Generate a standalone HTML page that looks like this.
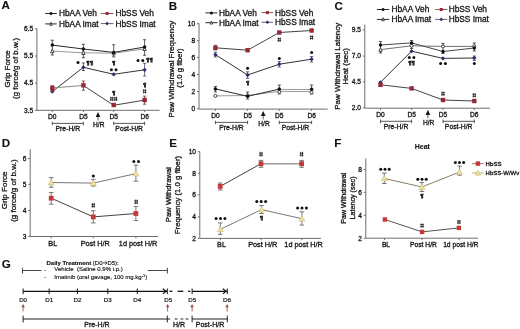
<!DOCTYPE html><html><head><meta charset="utf-8"><style>html,body{margin:0;padding:0;background:#fff;}svg{display:block;}body{will-change:transform;}text{font-family:"Liberation Sans",sans-serif;}</style></head><body>
<svg width="520" height="329" viewBox="0 0 520 329">
<rect width="520" height="329" fill="#fff"/>
<text x="1.5" y="9.38" font-size="11.6" text-anchor="start" font-weight="bold" fill="#111" stroke="#111" stroke-width="0.1">A</text>
<text x="168.8" y="9.58" font-size="11.6" text-anchor="start" font-weight="bold" fill="#111" stroke="#111" stroke-width="0.1">B</text>
<text x="334.6" y="9.98" font-size="11.6" text-anchor="start" font-weight="bold" fill="#111" stroke="#111" stroke-width="0.1">C</text>
<text x="1.7" y="146.68" font-size="11.6" text-anchor="start" font-weight="bold" fill="#111" stroke="#111" stroke-width="0.1">D</text>
<text x="169.2" y="147.18" font-size="11.6" text-anchor="start" font-weight="bold" fill="#111" stroke="#111" stroke-width="0.1">E</text>
<text x="334.2" y="147.18" font-size="11.6" text-anchor="start" font-weight="bold" fill="#111" stroke="#111" stroke-width="0.1">F</text>
<text x="1.7" y="268.48" font-size="11.6" text-anchor="start" font-weight="bold" fill="#111" stroke="#111" stroke-width="0.1">G</text>
<line x1="45.2" y1="13.5" x2="56.7" y2="13.5" stroke="#111" stroke-width="0.9"/>
<circle cx="50.95" cy="13.5" r="1.5" fill="#111"/>
<text x="59" y="16.49" font-size="8.3" text-anchor="start" font-weight="normal" fill="#151515" stroke="#151515" stroke-width="0.3">HbAA Veh</text>
<line x1="45.2" y1="23.9" x2="56.7" y2="23.9" stroke="#111" stroke-width="0.9"/>
<path d="M50.95,22.25 L52.27,25.22 L49.63,25.22 Z" fill="#fff" stroke="#333" stroke-width="0.9"/>
<text x="59" y="26.89" font-size="8.3" text-anchor="start" font-weight="normal" fill="#151515" stroke="#151515" stroke-width="0.3">HbAA Imat</text>
<line x1="100.8" y1="13.5" x2="113.5" y2="13.5" stroke="#7a4a4a" stroke-width="0.9"/>
<rect x="105.65" y="12" width="3" height="3" fill="#962838"/>
<text x="115.5" y="16.49" font-size="8.3" text-anchor="start" font-weight="normal" fill="#151515" stroke="#151515" stroke-width="0.3">HbSS Veh</text>
<line x1="100.8" y1="23.6" x2="113.5" y2="23.6" stroke="#555" stroke-width="0.9"/>
<path d="M107.15,21.8 L108.95,23.6 L107.15,25.4 L105.35,23.6 Z" fill="#2c2c6e"/>
<text x="115.5" y="26.59" font-size="8.3" text-anchor="start" font-weight="normal" fill="#151515" stroke="#151515" stroke-width="0.3">HbSS Imat</text>
<text x="0" y="0" font-size="7.9" text-anchor="middle" fill="#151515" stroke="#151515" stroke-width="0.3" transform="translate(9.8 68.9) rotate(-90)">Grip Force</text>
<text x="0" y="0" font-size="7.9" text-anchor="middle" fill="#151515" stroke="#151515" stroke-width="0.3" transform="translate(18 68.45) rotate(-90)">(g force/g of b.w.)</text>
<line x1="36.9" y1="28.5" x2="36.9" y2="110.3" stroke="#6e6e6e" stroke-width="1"/>
<line x1="34.9" y1="28.8" x2="36.9" y2="28.8" stroke="#6e6e6e" stroke-width="1"/>
<text x="33.1" y="31.18" font-size="6.6" text-anchor="end" font-weight="normal" fill="#151515" stroke="#151515" stroke-width="0.3">6.5</text>
<line x1="34.9" y1="56" x2="36.9" y2="56" stroke="#6e6e6e" stroke-width="1"/>
<text x="33.1" y="58.38" font-size="6.6" text-anchor="end" font-weight="normal" fill="#151515" stroke="#151515" stroke-width="0.3">5.5</text>
<line x1="34.9" y1="83.1" x2="36.9" y2="83.1" stroke="#6e6e6e" stroke-width="1"/>
<text x="33.1" y="85.48" font-size="6.6" text-anchor="end" font-weight="normal" fill="#151515" stroke="#151515" stroke-width="0.3">4.5</text>
<line x1="34.9" y1="110.4" x2="36.9" y2="110.4" stroke="#6e6e6e" stroke-width="1"/>
<text x="33.1" y="112.78" font-size="6.6" text-anchor="end" font-weight="normal" fill="#151515" stroke="#151515" stroke-width="0.3">3.5</text>
<line x1="36.9" y1="110.3" x2="159.6" y2="110.3" stroke="#6e6e6e" stroke-width="1"/>
<line x1="52.3" y1="110.3" x2="52.3" y2="112.1" stroke="#6e6e6e" stroke-width="1"/>
<text x="52.3" y="118.88" font-size="6.6" text-anchor="middle" font-weight="normal" fill="#151515" stroke="#151515" stroke-width="0.3">D0</text>
<line x1="83.4" y1="110.3" x2="83.4" y2="112.1" stroke="#6e6e6e" stroke-width="1"/>
<text x="83.4" y="118.88" font-size="6.6" text-anchor="middle" font-weight="normal" fill="#151515" stroke="#151515" stroke-width="0.3">D5</text>
<line x1="113.7" y1="110.3" x2="113.7" y2="112.1" stroke="#6e6e6e" stroke-width="1"/>
<text x="113.7" y="118.88" font-size="6.6" text-anchor="middle" font-weight="normal" fill="#151515" stroke="#151515" stroke-width="0.3">D5</text>
<line x1="144.6" y1="110.3" x2="144.6" y2="112.1" stroke="#6e6e6e" stroke-width="1"/>
<text x="144.6" y="118.88" font-size="6.6" text-anchor="middle" font-weight="normal" fill="#151515" stroke="#151515" stroke-width="0.3">D6</text>
<path d="M95.7,117.1 L98,111.9 L100.3,117.1 Z" fill="#111"/>
<line x1="98" y1="116.6" x2="98" y2="120.5" stroke="#555" stroke-width="0.9"/>
<text x="98.8" y="127.38" font-size="6.6" text-anchor="middle" font-weight="normal" fill="#151515" stroke="#151515" stroke-width="0.3">H/R</text>
<line x1="52.3" y1="123.4" x2="83.4" y2="123.4" stroke="#444" stroke-width="0.9"/>
<line x1="52.3" y1="121.7" x2="52.3" y2="125.2" stroke="#444" stroke-width="0.9"/>
<line x1="83.4" y1="121.7" x2="83.4" y2="125.2" stroke="#444" stroke-width="0.9"/>
<text x="67.85" y="131.15" font-size="6.8" text-anchor="middle" font-weight="normal" fill="#151515" stroke="#151515" stroke-width="0.3">Pre-H/R</text>
<line x1="113.7" y1="123.4" x2="144.6" y2="123.4" stroke="#444" stroke-width="0.9"/>
<line x1="113.7" y1="121.7" x2="113.7" y2="125.2" stroke="#444" stroke-width="0.9"/>
<line x1="144.6" y1="121.7" x2="144.6" y2="125.2" stroke="#444" stroke-width="0.9"/>
<text x="129.15" y="131.15" font-size="6.8" text-anchor="middle" font-weight="normal" fill="#151515" stroke="#151515" stroke-width="0.3">Post-H/R</text>
<polyline points="52.3,51.1 83.4,52.8 113.7,53.2 144.6,48.8" fill="none" stroke="#9a9a9a" stroke-width="1"/>
<polyline points="52.3,45.1 83.4,49 113.7,52.4 144.6,47" fill="none" stroke="#2a2a2a" stroke-width="1"/>
<polyline points="52.3,91.6 83.4,67.3 113.7,74.3 144.6,69.8" fill="none" stroke="#333" stroke-width="1"/>
<polyline points="52.3,87.9 83.4,85.5" fill="none" stroke="#888" stroke-width="1"/>
<polyline points="83.4,85.5 113.7,105.3 144.6,100.1" fill="none" stroke="#444" stroke-width="1"/>
<line x1="52.3" y1="40.2" x2="52.3" y2="55" stroke="#333" stroke-width="0.8"/>
<line x1="50.7" y1="40.2" x2="53.9" y2="40.2" stroke="#333" stroke-width="0.8"/>
<line x1="50.7" y1="55" x2="53.9" y2="55" stroke="#333" stroke-width="0.8"/>
<line x1="83.4" y1="44.3" x2="83.4" y2="57.7" stroke="#333" stroke-width="0.8"/>
<line x1="81.8" y1="44.3" x2="85" y2="44.3" stroke="#333" stroke-width="0.8"/>
<line x1="81.8" y1="57.7" x2="85" y2="57.7" stroke="#333" stroke-width="0.8"/>
<line x1="113.7" y1="44.8" x2="113.7" y2="56.9" stroke="#333" stroke-width="0.8"/>
<line x1="112.1" y1="44.8" x2="115.3" y2="44.8" stroke="#333" stroke-width="0.8"/>
<line x1="112.1" y1="56.9" x2="115.3" y2="56.9" stroke="#333" stroke-width="0.8"/>
<line x1="144.6" y1="39.7" x2="144.6" y2="55.3" stroke="#333" stroke-width="0.8"/>
<line x1="143" y1="39.7" x2="146.2" y2="39.7" stroke="#333" stroke-width="0.8"/>
<line x1="143" y1="55.3" x2="146.2" y2="55.3" stroke="#333" stroke-width="0.8"/>
<line x1="83.4" y1="63" x2="83.4" y2="70.5" stroke="#446" stroke-width="0.8"/>
<line x1="81.8" y1="63" x2="85" y2="63" stroke="#446" stroke-width="0.8"/>
<line x1="81.8" y1="70.5" x2="85" y2="70.5" stroke="#446" stroke-width="0.8"/>
<line x1="144.6" y1="63.3" x2="144.6" y2="76" stroke="#446" stroke-width="0.8"/>
<line x1="143" y1="63.3" x2="146.2" y2="63.3" stroke="#446" stroke-width="0.8"/>
<line x1="143" y1="76" x2="146.2" y2="76" stroke="#446" stroke-width="0.8"/>
<line x1="83.4" y1="81" x2="83.4" y2="90.2" stroke="#633" stroke-width="0.8"/>
<line x1="81.8" y1="81" x2="85" y2="81" stroke="#633" stroke-width="0.8"/>
<line x1="81.8" y1="90.2" x2="85" y2="90.2" stroke="#633" stroke-width="0.8"/>
<line x1="144.6" y1="96.1" x2="144.6" y2="104.2" stroke="#633" stroke-width="0.8"/>
<line x1="143" y1="96.1" x2="146.2" y2="96.1" stroke="#633" stroke-width="0.8"/>
<line x1="143" y1="104.2" x2="146.2" y2="104.2" stroke="#633" stroke-width="0.8"/>
<path d="M52.3,49.01 L53.97,52.77 L50.63,52.77 Z" fill="#fff" stroke="#333" stroke-width="0.9"/>
<path d="M83.4,50.71 L85.07,54.47 L81.73,54.47 Z" fill="#fff" stroke="#333" stroke-width="0.9"/>
<path d="M113.7,51.11 L115.37,54.87 L112.03,54.87 Z" fill="#fff" stroke="#333" stroke-width="0.9"/>
<path d="M144.6,46.71 L146.27,50.47 L142.93,50.47 Z" fill="#fff" stroke="#333" stroke-width="0.9"/>
<circle cx="52.3" cy="45.1" r="1.75" fill="#111"/>
<circle cx="83.4" cy="49" r="1.75" fill="#111"/>
<circle cx="113.7" cy="52.4" r="1.75" fill="#111"/>
<circle cx="144.6" cy="47" r="1.75" fill="#111"/>
<path d="M52.3,89.44 L54.46,91.6 L52.3,93.76 L50.14,91.6 Z" fill="#2c2c6e"/>
<path d="M83.4,65.14 L85.56,67.3 L83.4,69.46 L81.24,67.3 Z" fill="#2c2c6e"/>
<path d="M113.7,72.14 L115.86,74.3 L113.7,76.46 L111.54,74.3 Z" fill="#2c2c6e"/>
<path d="M144.6,67.64 L146.76,69.8 L144.6,71.96 L142.44,69.8 Z" fill="#2c2c6e"/>
<line x1="52.3" y1="85.6" x2="52.3" y2="91.5" stroke="#633" stroke-width="0.8"/>
<line x1="50.7" y1="85.6" x2="53.9" y2="85.6" stroke="#633" stroke-width="0.8"/>
<line x1="50.7" y1="91.5" x2="53.9" y2="91.5" stroke="#633" stroke-width="0.8"/>
<rect x="50.1" y="86.1" width="4.4" height="4.4" fill="#962838"/>
<rect x="81.2" y="83.1" width="4.4" height="4.4" fill="#962838"/>
<rect x="111.5" y="102.8" width="4.4" height="4.4" fill="#962838"/>
<rect x="142.4" y="97.8" width="4.4" height="4.4" fill="#962838"/>
<circle cx="78" cy="62.5" r="1.5" fill="#111"/>
<text x="89.7" y="64.66" font-size="6" text-anchor="middle" font-weight="bold" fill="#151515" stroke="#151515" stroke-width="0.4">¶¶</text>
<text x="113.7" y="65.16" font-size="6" text-anchor="middle" font-weight="bold" fill="#151515" stroke="#151515" stroke-width="0.4">¶</text>
<circle cx="111.4" cy="69.8" r="1.5" fill="#111"/>
<circle cx="116" cy="69.8" r="1.5" fill="#111"/>
<text x="113.7" y="94.66" font-size="6" text-anchor="middle" font-weight="bold" fill="#151515" stroke="#151515" stroke-width="0.4">¶</text>
<path d="M110.85,96.8 V101 M112.65,96.8 V101 M109.95,97.9 H113.55 M109.95,99.9 H113.55" stroke="#111" stroke-width="0.75" fill="none"/>
<path d="M114.75,96.8 V101 M116.55,96.8 V101 M113.85,97.9 H117.45 M113.85,99.9 H117.45" stroke="#111" stroke-width="0.75" fill="none"/>
<circle cx="138" cy="60.4" r="1.5" fill="#111"/>
<circle cx="142.8" cy="60.4" r="1.5" fill="#111"/>
<text x="149.4" y="62.16" font-size="6" text-anchor="middle" font-weight="bold" fill="#151515" stroke="#151515" stroke-width="0.4">¶¶</text>
<text x="144.6" y="86.56" font-size="6" text-anchor="middle" font-weight="bold" fill="#151515" stroke="#151515" stroke-width="0.4">¶</text>
<path d="M143.7,89.2 V93.4 M145.5,89.2 V93.4 M142.8,90.3 H146.4 M142.8,92.3 H146.4" stroke="#111" stroke-width="0.75" fill="none"/>
<line x1="205.4" y1="12.9" x2="217.3" y2="12.9" stroke="#111" stroke-width="0.9"/>
<circle cx="211.35" cy="12.9" r="1.5" fill="#111"/>
<text x="219" y="15.89" font-size="8.3" text-anchor="start" font-weight="normal" fill="#151515" stroke="#151515" stroke-width="0.3">HbAA Veh</text>
<line x1="205.4" y1="22.7" x2="217.3" y2="22.7" stroke="#111" stroke-width="0.9"/>
<path d="M211.35,21.05 L212.67,24.02 L210.03,24.02 Z" fill="#fff" stroke="#333" stroke-width="0.9"/>
<text x="219" y="25.69" font-size="8.3" text-anchor="start" font-weight="normal" fill="#151515" stroke="#151515" stroke-width="0.3">HbAA Imat</text>
<line x1="261.6" y1="12.6" x2="273.2" y2="12.6" stroke="#7a4a4a" stroke-width="0.9"/>
<rect x="265.9" y="11.1" width="3" height="3" fill="#962838"/>
<text x="275" y="15.59" font-size="8.3" text-anchor="start" font-weight="normal" fill="#151515" stroke="#151515" stroke-width="0.3">HbSS Veh</text>
<line x1="261.6" y1="22.3" x2="273.2" y2="22.3" stroke="#555" stroke-width="0.9"/>
<path d="M267.4,20.5 L269.2,22.3 L267.4,24.1 L265.6,22.3 Z" fill="#2c2c6e"/>
<text x="275" y="25.29" font-size="8.3" text-anchor="start" font-weight="normal" fill="#151515" stroke="#151515" stroke-width="0.3">HbSS Imat</text>
<text x="0" y="0" font-size="7.95" text-anchor="middle" fill="#151515" stroke="#151515" stroke-width="0.3" transform="translate(174 69.2) rotate(-90)">Paw Withdrawal Frequency</text>
<text x="0" y="0" font-size="7.7" text-anchor="middle" fill="#151515" stroke="#151515" stroke-width="0.3" transform="translate(182 68) rotate(-90)">(1.0 g fiber)</text>
<line x1="199" y1="23.4" x2="199" y2="109.1" stroke="#6e6e6e" stroke-width="1"/>
<line x1="197" y1="23.7" x2="199" y2="23.7" stroke="#6e6e6e" stroke-width="1"/>
<text x="195.2" y="26.08" font-size="6.6" text-anchor="end" font-weight="normal" fill="#151515" stroke="#151515" stroke-width="0.3">10</text>
<line x1="197" y1="40.6" x2="199" y2="40.6" stroke="#6e6e6e" stroke-width="1"/>
<text x="195.2" y="42.98" font-size="6.6" text-anchor="end" font-weight="normal" fill="#151515" stroke="#151515" stroke-width="0.3">8</text>
<line x1="197" y1="57.5" x2="199" y2="57.5" stroke="#6e6e6e" stroke-width="1"/>
<text x="195.2" y="59.88" font-size="6.6" text-anchor="end" font-weight="normal" fill="#151515" stroke="#151515" stroke-width="0.3">6</text>
<line x1="197" y1="74.5" x2="199" y2="74.5" stroke="#6e6e6e" stroke-width="1"/>
<text x="195.2" y="76.88" font-size="6.6" text-anchor="end" font-weight="normal" fill="#151515" stroke="#151515" stroke-width="0.3">4</text>
<line x1="197" y1="91.5" x2="199" y2="91.5" stroke="#6e6e6e" stroke-width="1"/>
<text x="195.2" y="93.88" font-size="6.6" text-anchor="end" font-weight="normal" fill="#151515" stroke="#151515" stroke-width="0.3">2</text>
<line x1="197" y1="108.7" x2="199" y2="108.7" stroke="#6e6e6e" stroke-width="1"/>
<text x="195.2" y="111.08" font-size="6.6" text-anchor="end" font-weight="normal" fill="#151515" stroke="#151515" stroke-width="0.3">0</text>
<line x1="199" y1="109.1" x2="327.7" y2="109.1" stroke="#6e6e6e" stroke-width="1"/>
<line x1="215.4" y1="109.1" x2="215.4" y2="110.9" stroke="#6e6e6e" stroke-width="1"/>
<text x="215.4" y="117.78" font-size="6.6" text-anchor="middle" font-weight="normal" fill="#151515" stroke="#151515" stroke-width="0.3">D0</text>
<line x1="247.6" y1="109.1" x2="247.6" y2="110.9" stroke="#6e6e6e" stroke-width="1"/>
<text x="247.6" y="117.78" font-size="6.6" text-anchor="middle" font-weight="normal" fill="#151515" stroke="#151515" stroke-width="0.3">D5</text>
<line x1="279.3" y1="109.1" x2="279.3" y2="110.9" stroke="#6e6e6e" stroke-width="1"/>
<text x="279.3" y="117.78" font-size="6.6" text-anchor="middle" font-weight="normal" fill="#151515" stroke="#151515" stroke-width="0.3">D5</text>
<line x1="311.6" y1="109.1" x2="311.6" y2="110.9" stroke="#6e6e6e" stroke-width="1"/>
<text x="311.6" y="117.78" font-size="6.6" text-anchor="middle" font-weight="normal" fill="#151515" stroke="#151515" stroke-width="0.3">D6</text>
<path d="M260.9,116.1 L263.2,110.9 L265.5,116.1 Z" fill="#111"/>
<line x1="263.2" y1="115.6" x2="263.2" y2="119.5" stroke="#555" stroke-width="0.9"/>
<text x="264" y="126.38" font-size="6.6" text-anchor="middle" font-weight="normal" fill="#151515" stroke="#151515" stroke-width="0.3">H/R</text>
<line x1="215.4" y1="122.4" x2="247.6" y2="122.4" stroke="#444" stroke-width="0.9"/>
<line x1="215.4" y1="120.7" x2="215.4" y2="124.2" stroke="#444" stroke-width="0.9"/>
<line x1="247.6" y1="120.7" x2="247.6" y2="124.2" stroke="#444" stroke-width="0.9"/>
<text x="231.5" y="130.15" font-size="6.8" text-anchor="middle" font-weight="normal" fill="#151515" stroke="#151515" stroke-width="0.3">Pre-H/R</text>
<line x1="279.3" y1="122.4" x2="311.6" y2="122.4" stroke="#444" stroke-width="0.9"/>
<line x1="279.3" y1="120.7" x2="279.3" y2="124.2" stroke="#444" stroke-width="0.9"/>
<line x1="311.6" y1="120.7" x2="311.6" y2="124.2" stroke="#444" stroke-width="0.9"/>
<text x="295.45" y="130.15" font-size="6.8" text-anchor="middle" font-weight="normal" fill="#151515" stroke="#151515" stroke-width="0.3">Post-H/R</text>
<polyline points="215.4,95.9 247.6,95.5 279.3,91.4 311.6,91.6" fill="none" stroke="#9a9a9a" stroke-width="1"/>
<polyline points="215.4,88.9 247.6,96.3 279.3,89.1" fill="none" stroke="#2a2a2a" stroke-width="1"/>
<polyline points="279.3,89.4 311.6,89.6" fill="none" stroke="#999" stroke-width="1"/>
<polyline points="215.4,54.7 247.6,75 279.3,64.2 311.6,59.2" fill="none" stroke="#333" stroke-width="1"/>
<polyline points="215.4,47.8 247.6,50.2 279.3,32.5 311.6,30.5" fill="none" stroke="#444" stroke-width="1"/>
<line x1="215.4" y1="86.5" x2="215.4" y2="92" stroke="#333" stroke-width="0.8"/>
<line x1="213.8" y1="86.5" x2="217" y2="86.5" stroke="#333" stroke-width="0.8"/>
<line x1="213.8" y1="92" x2="217" y2="92" stroke="#333" stroke-width="0.8"/>
<line x1="247.6" y1="92" x2="247.6" y2="99" stroke="#333" stroke-width="0.8"/>
<line x1="246" y1="92" x2="249.2" y2="92" stroke="#333" stroke-width="0.8"/>
<line x1="246" y1="99" x2="249.2" y2="99" stroke="#333" stroke-width="0.8"/>
<line x1="279.3" y1="85" x2="279.3" y2="94" stroke="#333" stroke-width="0.8"/>
<line x1="277.7" y1="85" x2="280.9" y2="85" stroke="#333" stroke-width="0.8"/>
<line x1="277.7" y1="94" x2="280.9" y2="94" stroke="#333" stroke-width="0.8"/>
<line x1="311.6" y1="85" x2="311.6" y2="94" stroke="#333" stroke-width="0.8"/>
<line x1="310" y1="85" x2="313.2" y2="85" stroke="#333" stroke-width="0.8"/>
<line x1="310" y1="94" x2="313.2" y2="94" stroke="#333" stroke-width="0.8"/>
<line x1="247.6" y1="71.8" x2="247.6" y2="78.3" stroke="#446" stroke-width="0.8"/>
<line x1="246" y1="71.8" x2="249.2" y2="71.8" stroke="#446" stroke-width="0.8"/>
<line x1="246" y1="78.3" x2="249.2" y2="78.3" stroke="#446" stroke-width="0.8"/>
<line x1="215.4" y1="52.3" x2="215.4" y2="57" stroke="#446" stroke-width="0.8"/>
<line x1="213.8" y1="52.3" x2="217" y2="52.3" stroke="#446" stroke-width="0.8"/>
<line x1="213.8" y1="57" x2="217" y2="57" stroke="#446" stroke-width="0.8"/>
<line x1="215.4" y1="45.3" x2="215.4" y2="50" stroke="#633" stroke-width="0.8"/>
<line x1="213.8" y1="45.3" x2="217" y2="45.3" stroke="#633" stroke-width="0.8"/>
<line x1="213.8" y1="50" x2="217" y2="50" stroke="#633" stroke-width="0.8"/>
<line x1="279.3" y1="61.5" x2="279.3" y2="67" stroke="#446" stroke-width="0.8"/>
<line x1="277.7" y1="61.5" x2="280.9" y2="61.5" stroke="#446" stroke-width="0.8"/>
<line x1="277.7" y1="67" x2="280.9" y2="67" stroke="#446" stroke-width="0.8"/>
<line x1="311.6" y1="56.5" x2="311.6" y2="62" stroke="#446" stroke-width="0.8"/>
<line x1="310" y1="56.5" x2="313.2" y2="56.5" stroke="#446" stroke-width="0.8"/>
<line x1="310" y1="62" x2="313.2" y2="62" stroke="#446" stroke-width="0.8"/>
<circle cx="215.4" cy="95.9" r="1.52" fill="#fff" stroke="#333" stroke-width="0.9"/>
<circle cx="247.6" cy="95.5" r="1.52" fill="#fff" stroke="#333" stroke-width="0.9"/>
<circle cx="279.3" cy="91.9" r="1.52" fill="#fff" stroke="#333" stroke-width="0.9"/>
<circle cx="311.6" cy="92.4" r="1.52" fill="#fff" stroke="#333" stroke-width="0.9"/>
<circle cx="215.4" cy="88.9" r="1.75" fill="#111"/>
<circle cx="247.6" cy="96.3" r="1.75" fill="#111"/>
<circle cx="279.3" cy="89.1" r="1.75" fill="#111"/>
<circle cx="311.6" cy="89.3" r="1.75" fill="#111"/>
<path d="M215.4,52.54 L217.56,54.7 L215.4,56.86 L213.24,54.7 Z" fill="#2c2c6e"/>
<path d="M247.6,72.84 L249.76,75 L247.6,77.16 L245.44,75 Z" fill="#2c2c6e"/>
<path d="M279.3,62.04 L281.46,64.2 L279.3,66.36 L277.14,64.2 Z" fill="#2c2c6e"/>
<path d="M311.6,57.04 L313.76,59.2 L311.6,61.36 L309.44,59.2 Z" fill="#2c2c6e"/>
<rect x="213.2" y="45.6" width="4.4" height="4.4" fill="#962838"/>
<rect x="245.4" y="48" width="4.4" height="4.4" fill="#962838"/>
<rect x="277.1" y="30.3" width="4.4" height="4.4" fill="#962838"/>
<rect x="309.4" y="28.3" width="4.4" height="4.4" fill="#962838"/>
<circle cx="247.6" cy="68.3" r="1.5" fill="#111"/>
<text x="247.6" y="85.36" font-size="6" text-anchor="middle" font-weight="bold" fill="#151515" stroke="#151515" stroke-width="0.4">¶</text>
<path d="M278.4,37.6 V41.8 M280.2,37.6 V41.8 M277.5,38.7 H281.1 M277.5,40.7 H281.1" stroke="#111" stroke-width="0.75" fill="none"/>
<circle cx="279.3" cy="58.4" r="1.5" fill="#111"/>
<path d="M310.7,35.4 V39.6 M312.5,35.4 V39.6 M309.8,36.5 H313.4 M309.8,38.5 H313.4" stroke="#111" stroke-width="0.75" fill="none"/>
<circle cx="311.6" cy="52.5" r="1.5" fill="#111"/>
<line x1="376.9" y1="9.5" x2="389.2" y2="9.5" stroke="#111" stroke-width="0.9"/>
<circle cx="383.05" cy="9.5" r="1.5" fill="#111"/>
<text x="391.5" y="12.49" font-size="8.3" text-anchor="start" font-weight="normal" fill="#151515" stroke="#151515" stroke-width="0.3">HbAA Veh</text>
<line x1="376.9" y1="19.4" x2="389.2" y2="19.4" stroke="#111" stroke-width="0.9"/>
<path d="M383.05,17.75 L384.37,20.72 L381.73,20.72 Z" fill="#fff" stroke="#333" stroke-width="0.9"/>
<text x="391.5" y="22.39" font-size="8.3" text-anchor="start" font-weight="normal" fill="#151515" stroke="#151515" stroke-width="0.3">HbAA Imat</text>
<line x1="435.2" y1="9.5" x2="447.3" y2="9.5" stroke="#7a4a4a" stroke-width="0.9"/>
<rect x="439.75" y="8" width="3" height="3" fill="#962838"/>
<text x="448.7" y="12.49" font-size="8.3" text-anchor="start" font-weight="normal" fill="#151515" stroke="#151515" stroke-width="0.3">HbSS Veh</text>
<line x1="435.2" y1="19.4" x2="447.3" y2="19.4" stroke="#555" stroke-width="0.9"/>
<path d="M441.25,17.6 L443.05,19.4 L441.25,21.2 L439.45,19.4 Z" fill="#2c2c6e"/>
<text x="448.7" y="22.39" font-size="8.3" text-anchor="start" font-weight="normal" fill="#151515" stroke="#151515" stroke-width="0.3">HbSS Imat</text>
<text x="0" y="0" font-size="7.95" text-anchor="middle" fill="#151515" stroke="#151515" stroke-width="0.3" transform="translate(339.5 66.3) rotate(-90)">Paw Withdrawal Latency</text>
<text x="0" y="0" font-size="7.9" text-anchor="middle" fill="#151515" stroke="#151515" stroke-width="0.3" transform="translate(347.5 66.4) rotate(-90)">Heat (sec)</text>
<line x1="364.8" y1="24.7" x2="364.8" y2="108.2" stroke="#6e6e6e" stroke-width="1"/>
<line x1="362.8" y1="30" x2="364.8" y2="30" stroke="#6e6e6e" stroke-width="1"/>
<text x="361" y="32.38" font-size="6.6" text-anchor="end" font-weight="normal" fill="#151515" stroke="#151515" stroke-width="0.3">9.5</text>
<line x1="362.8" y1="56" x2="364.8" y2="56" stroke="#6e6e6e" stroke-width="1"/>
<text x="361" y="58.38" font-size="6.6" text-anchor="end" font-weight="normal" fill="#151515" stroke="#151515" stroke-width="0.3">7.0</text>
<line x1="362.8" y1="81.9" x2="364.8" y2="81.9" stroke="#6e6e6e" stroke-width="1"/>
<text x="361" y="84.28" font-size="6.6" text-anchor="end" font-weight="normal" fill="#151515" stroke="#151515" stroke-width="0.3">4.5</text>
<line x1="362.8" y1="107.9" x2="364.8" y2="107.9" stroke="#6e6e6e" stroke-width="1"/>
<text x="361" y="110.28" font-size="6.6" text-anchor="end" font-weight="normal" fill="#151515" stroke="#151515" stroke-width="0.3">2.0</text>
<line x1="364.8" y1="108.2" x2="490" y2="108.2" stroke="#6e6e6e" stroke-width="1"/>
<line x1="380.5" y1="108.2" x2="380.5" y2="110" stroke="#6e6e6e" stroke-width="1"/>
<text x="380.5" y="117.18" font-size="6.6" text-anchor="middle" font-weight="normal" fill="#151515" stroke="#151515" stroke-width="0.3">D0</text>
<line x1="411.6" y1="108.2" x2="411.6" y2="110" stroke="#6e6e6e" stroke-width="1"/>
<text x="411.6" y="117.18" font-size="6.6" text-anchor="middle" font-weight="normal" fill="#151515" stroke="#151515" stroke-width="0.3">D5</text>
<line x1="443" y1="108.2" x2="443" y2="110" stroke="#6e6e6e" stroke-width="1"/>
<text x="443" y="117.18" font-size="6.6" text-anchor="middle" font-weight="normal" fill="#151515" stroke="#151515" stroke-width="0.3">D5</text>
<line x1="474.3" y1="108.2" x2="474.3" y2="110" stroke="#6e6e6e" stroke-width="1"/>
<text x="474.3" y="117.18" font-size="6.6" text-anchor="middle" font-weight="normal" fill="#151515" stroke="#151515" stroke-width="0.3">D6</text>
<path d="M425.6,115 L427.9,109.8 L430.2,115 Z" fill="#111"/>
<line x1="427.9" y1="114.5" x2="427.9" y2="118.4" stroke="#555" stroke-width="0.9"/>
<text x="428.7" y="125.28" font-size="6.6" text-anchor="middle" font-weight="normal" fill="#151515" stroke="#151515" stroke-width="0.3">H/R</text>
<line x1="380.5" y1="121.3" x2="411.6" y2="121.3" stroke="#444" stroke-width="0.9"/>
<line x1="380.5" y1="119.6" x2="380.5" y2="123.1" stroke="#444" stroke-width="0.9"/>
<line x1="411.6" y1="119.6" x2="411.6" y2="123.1" stroke="#444" stroke-width="0.9"/>
<text x="396.05" y="129.05" font-size="6.8" text-anchor="middle" font-weight="normal" fill="#151515" stroke="#151515" stroke-width="0.3">Pre-H/R</text>
<line x1="443" y1="121.3" x2="474.3" y2="121.3" stroke="#444" stroke-width="0.9"/>
<line x1="443" y1="119.6" x2="443" y2="123.1" stroke="#444" stroke-width="0.9"/>
<line x1="474.3" y1="119.6" x2="474.3" y2="123.1" stroke="#444" stroke-width="0.9"/>
<text x="458.65" y="129.05" font-size="6.8" text-anchor="middle" font-weight="normal" fill="#151515" stroke="#151515" stroke-width="0.3">Post-H/R</text>
<polyline points="380.5,49.6 411.6,45.8 443,46.4 474.3,46.4" fill="none" stroke="#707070" stroke-width="1"/>
<polyline points="380.5,45 411.6,42.9 443,51.5 474.3,48" fill="none" stroke="#4a4a4a" stroke-width="1"/>
<polyline points="380.5,82.3 411.6,51.2 443,58.4 474.3,58" fill="none" stroke="#333" stroke-width="1"/>
<polyline points="380.5,84.8 411.6,88.4 443,100 474.3,101" fill="none" stroke="#444" stroke-width="1"/>
<line x1="380.5" y1="41.5" x2="380.5" y2="53" stroke="#333" stroke-width="0.8"/>
<line x1="378.9" y1="41.5" x2="382.1" y2="41.5" stroke="#333" stroke-width="0.8"/>
<line x1="378.9" y1="53" x2="382.1" y2="53" stroke="#333" stroke-width="0.8"/>
<line x1="411.6" y1="40.5" x2="411.6" y2="48.5" stroke="#333" stroke-width="0.8"/>
<line x1="410" y1="40.5" x2="413.2" y2="40.5" stroke="#333" stroke-width="0.8"/>
<line x1="410" y1="48.5" x2="413.2" y2="48.5" stroke="#333" stroke-width="0.8"/>
<line x1="443" y1="43.4" x2="443" y2="53.5" stroke="#333" stroke-width="0.8"/>
<line x1="441.4" y1="43.4" x2="444.6" y2="43.4" stroke="#333" stroke-width="0.8"/>
<line x1="441.4" y1="53.5" x2="444.6" y2="53.5" stroke="#333" stroke-width="0.8"/>
<line x1="474.3" y1="43" x2="474.3" y2="51" stroke="#333" stroke-width="0.8"/>
<line x1="472.7" y1="43" x2="475.9" y2="43" stroke="#333" stroke-width="0.8"/>
<line x1="472.7" y1="51" x2="475.9" y2="51" stroke="#333" stroke-width="0.8"/>
<line x1="474.3" y1="56" x2="474.3" y2="60.5" stroke="#446" stroke-width="0.8"/>
<line x1="472.7" y1="56" x2="475.9" y2="56" stroke="#446" stroke-width="0.8"/>
<line x1="472.7" y1="60.5" x2="475.9" y2="60.5" stroke="#446" stroke-width="0.8"/>
<path d="M380.5,47.51 L382.17,51.27 L378.83,51.27 Z" fill="#fff" stroke="#333" stroke-width="0.9"/>
<circle cx="411.6" cy="45.8" r="1.52" fill="#fff" stroke="#333" stroke-width="0.9"/>
<circle cx="443" cy="46.4" r="1.52" fill="#fff" stroke="#333" stroke-width="0.9"/>
<circle cx="474.3" cy="46.4" r="1.52" fill="#fff" stroke="#333" stroke-width="0.9"/>
<circle cx="380.5" cy="45" r="1.75" fill="#111"/>
<circle cx="411.6" cy="42.9" r="1.75" fill="#111"/>
<circle cx="443" cy="51.4" r="1.75" fill="#111"/>
<circle cx="474.3" cy="48" r="1.75" fill="#111"/>
<path d="M380.5,80.14 L382.66,82.3 L380.5,84.46 L378.34,82.3 Z" fill="#2c2c6e"/>
<path d="M411.6,49.04 L413.76,51.2 L411.6,53.36 L409.44,51.2 Z" fill="#2c2c6e"/>
<path d="M443,56.24 L445.16,58.4 L443,60.56 L440.84,58.4 Z" fill="#2c2c6e"/>
<path d="M474.3,55.84 L476.46,58 L474.3,60.16 L472.14,58 Z" fill="#2c2c6e"/>
<rect x="378.3" y="82.6" width="4.4" height="4.4" fill="#962838"/>
<rect x="409.4" y="86.2" width="4.4" height="4.4" fill="#962838"/>
<rect x="440.8" y="97.8" width="4.4" height="4.4" fill="#962838"/>
<rect x="472.1" y="98.8" width="4.4" height="4.4" fill="#962838"/>
<circle cx="409.3" cy="57.6" r="1.5" fill="#111"/>
<circle cx="413.9" cy="57.6" r="1.5" fill="#111"/>
<text x="411.6" y="65.26" font-size="6" text-anchor="middle" font-weight="bold" fill="#151515" stroke="#151515" stroke-width="0.4">¶¶</text>
<circle cx="440.6" cy="63.4" r="1.5" fill="#111"/>
<circle cx="445.4" cy="63.4" r="1.5" fill="#111"/>
<circle cx="474.3" cy="63.4" r="1.5" fill="#111"/>
<path d="M442.1,91.6 V95.8 M443.9,91.6 V95.8 M441.2,92.7 H444.8 M441.2,94.7 H444.8" stroke="#111" stroke-width="0.75" fill="none"/>
<path d="M473.4,93.2 V97.4 M475.2,93.2 V97.4 M472.5,94.3 H476.1 M472.5,96.3 H476.1" stroke="#111" stroke-width="0.75" fill="none"/>
<text x="0" y="0" font-size="8" text-anchor="middle" fill="#151515" stroke="#151515" stroke-width="0.3" transform="translate(7.2 190.4) rotate(-90)">Grip Force</text>
<text x="0" y="0" font-size="8.1" text-anchor="middle" fill="#151515" stroke="#151515" stroke-width="0.3" transform="translate(15.8 190.6) rotate(-90)">(g force/g of b.w.)</text>
<line x1="30.2" y1="149.2" x2="30.2" y2="236.5" stroke="#6e6e6e" stroke-width="1"/>
<line x1="28.2" y1="158.5" x2="30.2" y2="158.5" stroke="#6e6e6e" stroke-width="1"/>
<text x="26.4" y="160.88" font-size="6.6" text-anchor="end" font-weight="normal" fill="#151515" stroke="#151515" stroke-width="0.3">6</text>
<line x1="28.2" y1="184.4" x2="30.2" y2="184.4" stroke="#6e6e6e" stroke-width="1"/>
<text x="26.4" y="186.78" font-size="6.6" text-anchor="end" font-weight="normal" fill="#151515" stroke="#151515" stroke-width="0.3">5</text>
<line x1="28.2" y1="210.5" x2="30.2" y2="210.5" stroke="#6e6e6e" stroke-width="1"/>
<text x="26.4" y="212.88" font-size="6.6" text-anchor="end" font-weight="normal" fill="#151515" stroke="#151515" stroke-width="0.3">4</text>
<line x1="28.2" y1="236.4" x2="30.2" y2="236.4" stroke="#6e6e6e" stroke-width="1"/>
<text x="26.4" y="238.78" font-size="6.6" text-anchor="end" font-weight="normal" fill="#151515" stroke="#151515" stroke-width="0.3">3</text>
<line x1="30.2" y1="236.5" x2="158" y2="236.5" stroke="#6e6e6e" stroke-width="1"/>
<line x1="51.2" y1="236.5" x2="51.2" y2="238.3" stroke="#6e6e6e" stroke-width="1"/>
<text x="52.8" y="246.33" font-size="7.3" text-anchor="middle" font-weight="normal" fill="#151515" stroke="#151515" stroke-width="0.3">BL</text>
<line x1="93.3" y1="236.5" x2="93.3" y2="238.3" stroke="#6e6e6e" stroke-width="1"/>
<text x="95.3" y="246.33" font-size="7.3" text-anchor="middle" font-weight="normal" fill="#151515" stroke="#151515" stroke-width="0.3">Post H/R</text>
<line x1="135.9" y1="236.5" x2="135.9" y2="238.3" stroke="#6e6e6e" stroke-width="1"/>
<text x="138.1" y="246.33" font-size="7.3" text-anchor="middle" font-weight="normal" fill="#151515" stroke="#151515" stroke-width="0.3">1d post H/R</text>
<polyline points="51.2,182.5 93.3,183.1 135.9,173.6" fill="none" stroke="#777" stroke-width="1"/>
<polyline points="51.2,198.2 93.3,216.9 135.9,213.5" fill="none" stroke="#444" stroke-width="1"/>
<line x1="51.2" y1="177.6" x2="51.2" y2="187.3" stroke="#505050" stroke-width="0.75"/>
<line x1="48.9" y1="177.6" x2="53.5" y2="177.6" stroke="#505050" stroke-width="0.75"/>
<line x1="48.9" y1="187.3" x2="53.5" y2="187.3" stroke="#505050" stroke-width="0.75"/>
<line x1="93.3" y1="179.4" x2="93.3" y2="186.1" stroke="#505050" stroke-width="0.75"/>
<line x1="91" y1="179.4" x2="95.6" y2="179.4" stroke="#505050" stroke-width="0.75"/>
<line x1="91" y1="186.1" x2="95.6" y2="186.1" stroke="#505050" stroke-width="0.75"/>
<line x1="135.9" y1="165.2" x2="135.9" y2="181.2" stroke="#505050" stroke-width="0.75"/>
<line x1="133.6" y1="165.2" x2="138.2" y2="165.2" stroke="#505050" stroke-width="0.75"/>
<line x1="133.6" y1="181.2" x2="138.2" y2="181.2" stroke="#505050" stroke-width="0.75"/>
<line x1="51.2" y1="192.5" x2="51.2" y2="204.2" stroke="#505050" stroke-width="0.75"/>
<line x1="48.9" y1="192.5" x2="53.5" y2="192.5" stroke="#505050" stroke-width="0.75"/>
<line x1="48.9" y1="204.2" x2="53.5" y2="204.2" stroke="#505050" stroke-width="0.75"/>
<line x1="93.3" y1="210.8" x2="93.3" y2="222.9" stroke="#505050" stroke-width="0.75"/>
<line x1="91" y1="210.8" x2="95.6" y2="210.8" stroke="#505050" stroke-width="0.75"/>
<line x1="91" y1="222.9" x2="95.6" y2="222.9" stroke="#505050" stroke-width="0.75"/>
<line x1="135.9" y1="206.5" x2="135.9" y2="220.5" stroke="#505050" stroke-width="0.75"/>
<line x1="133.6" y1="206.5" x2="138.2" y2="206.5" stroke="#505050" stroke-width="0.75"/>
<line x1="133.6" y1="220.5" x2="138.2" y2="220.5" stroke="#505050" stroke-width="0.75"/>
<path d="M51.2,179.5 L54.2,184.9 L48.2,184.9 Z" fill="#eee2a0" stroke="#c4b070" stroke-width="0.5"/>
<path d="M93.3,180.1 L96.3,185.5 L90.3,185.5 Z" fill="#eee2a0" stroke="#c4b070" stroke-width="0.5"/>
<path d="M135.9,170.6 L138.9,176 L132.9,176 Z" fill="#eee2a0" stroke="#c4b070" stroke-width="0.5"/>
<rect x="48.8" y="195.8" width="4.8" height="4.8" fill="#c23c38"/>
<rect x="90.9" y="214.5" width="4.8" height="4.8" fill="#c23c38"/>
<rect x="133.5" y="211.1" width="4.8" height="4.8" fill="#c23c38"/>
<circle cx="93.3" cy="176" r="1.5" fill="#111"/>
<circle cx="133.9" cy="161.4" r="1.5" fill="#111"/>
<circle cx="138.5" cy="161.4" r="1.5" fill="#111"/>
<path d="M92.4,203.05 V207.75 M94.2,203.05 V207.75 M91.5,204.4 H95.1 M91.5,206.4 H95.1" stroke="#111" stroke-width="0.75" fill="none"/>
<path d="M135.3,199.55 V204.25 M137.1,199.55 V204.25 M134.4,200.9 H138 M134.4,202.9 H138" stroke="#111" stroke-width="0.75" fill="none"/>
<text x="0" y="0" font-size="7.73" text-anchor="middle" fill="#151515" stroke="#151515" stroke-width="0.3" transform="translate(170.8 194.6) rotate(-90)">Paw Withdrawal</text>
<text x="0" y="0" font-size="7.74" text-anchor="middle" fill="#151515" stroke="#151515" stroke-width="0.3" transform="translate(179.8 195.05) rotate(-90)">Frequency (1.0 g fiber)</text>
<line x1="199.8" y1="151.4" x2="199.8" y2="238.4" stroke="#6e6e6e" stroke-width="1"/>
<line x1="197.8" y1="151.7" x2="199.8" y2="151.7" stroke="#6e6e6e" stroke-width="1"/>
<text x="196" y="154.08" font-size="6.6" text-anchor="end" font-weight="normal" fill="#151515" stroke="#151515" stroke-width="0.3">10</text>
<line x1="197.8" y1="173.4" x2="199.8" y2="173.4" stroke="#6e6e6e" stroke-width="1"/>
<text x="196" y="175.78" font-size="6.6" text-anchor="end" font-weight="normal" fill="#151515" stroke="#151515" stroke-width="0.3">8</text>
<line x1="197.8" y1="194.8" x2="199.8" y2="194.8" stroke="#6e6e6e" stroke-width="1"/>
<text x="196" y="197.18" font-size="6.6" text-anchor="end" font-weight="normal" fill="#151515" stroke="#151515" stroke-width="0.3">6</text>
<line x1="197.8" y1="216.8" x2="199.8" y2="216.8" stroke="#6e6e6e" stroke-width="1"/>
<text x="196" y="219.18" font-size="6.6" text-anchor="end" font-weight="normal" fill="#151515" stroke="#151515" stroke-width="0.3">4</text>
<line x1="197.8" y1="238.3" x2="199.8" y2="238.3" stroke="#6e6e6e" stroke-width="1"/>
<text x="196" y="240.68" font-size="6.6" text-anchor="end" font-weight="normal" fill="#151515" stroke="#151515" stroke-width="0.3">2</text>
<line x1="199.8" y1="238.4" x2="321" y2="238.4" stroke="#6e6e6e" stroke-width="1"/>
<line x1="220.3" y1="238.4" x2="220.3" y2="240.2" stroke="#6e6e6e" stroke-width="1"/>
<text x="221.5" y="247.43" font-size="7.3" text-anchor="middle" font-weight="normal" fill="#151515" stroke="#151515" stroke-width="0.3">BL</text>
<line x1="261.2" y1="238.4" x2="261.2" y2="240.2" stroke="#6e6e6e" stroke-width="1"/>
<text x="262.75" y="247.43" font-size="7.3" text-anchor="middle" font-weight="normal" fill="#151515" stroke="#151515" stroke-width="0.3">Post H/R</text>
<line x1="301.8" y1="238.4" x2="301.8" y2="240.2" stroke="#6e6e6e" stroke-width="1"/>
<text x="303.6" y="247.43" font-size="7.3" text-anchor="middle" font-weight="normal" fill="#151515" stroke="#151515" stroke-width="0.3">1d post H/R</text>
<polyline points="220.2,186.4 261,163.7" fill="none" stroke="#444" stroke-width="1"/>
<polyline points="261,163.7 301.6,163.7" fill="none" stroke="#a49c9c" stroke-width="1.5"/>
<polyline points="220.3,229.3 261.5,209.6 301.9,218.7" fill="none" stroke="#777" stroke-width="1"/>
<line x1="220.2" y1="183" x2="220.2" y2="190" stroke="#505050" stroke-width="0.75"/>
<line x1="217.9" y1="183" x2="222.5" y2="183" stroke="#505050" stroke-width="0.75"/>
<line x1="217.9" y1="190" x2="222.5" y2="190" stroke="#505050" stroke-width="0.75"/>
<line x1="261" y1="160.4" x2="261" y2="167.3" stroke="#505050" stroke-width="0.75"/>
<line x1="258.7" y1="160.4" x2="263.3" y2="160.4" stroke="#505050" stroke-width="0.75"/>
<line x1="258.7" y1="167.3" x2="263.3" y2="167.3" stroke="#505050" stroke-width="0.75"/>
<line x1="301.6" y1="160.4" x2="301.6" y2="167.3" stroke="#505050" stroke-width="0.75"/>
<line x1="299.3" y1="160.4" x2="303.9" y2="160.4" stroke="#505050" stroke-width="0.75"/>
<line x1="299.3" y1="167.3" x2="303.9" y2="167.3" stroke="#505050" stroke-width="0.75"/>
<line x1="220.3" y1="222.9" x2="220.3" y2="234.4" stroke="#505050" stroke-width="0.75"/>
<line x1="218" y1="222.9" x2="222.6" y2="222.9" stroke="#505050" stroke-width="0.75"/>
<line x1="218" y1="234.4" x2="222.6" y2="234.4" stroke="#505050" stroke-width="0.75"/>
<line x1="261.5" y1="205.6" x2="261.5" y2="213.5" stroke="#505050" stroke-width="0.75"/>
<line x1="259.2" y1="205.6" x2="263.8" y2="205.6" stroke="#505050" stroke-width="0.75"/>
<line x1="259.2" y1="213.5" x2="263.8" y2="213.5" stroke="#505050" stroke-width="0.75"/>
<line x1="301.9" y1="211.8" x2="301.9" y2="225.1" stroke="#505050" stroke-width="0.75"/>
<line x1="299.6" y1="211.8" x2="304.2" y2="211.8" stroke="#505050" stroke-width="0.75"/>
<line x1="299.6" y1="225.1" x2="304.2" y2="225.1" stroke="#505050" stroke-width="0.75"/>
<rect x="217.8" y="184" width="4.8" height="4.8" fill="#c23c38"/>
<rect x="258.6" y="161.3" width="4.8" height="4.8" fill="#c23c38"/>
<rect x="299.2" y="161.3" width="4.8" height="4.8" fill="#c23c38"/>
<path d="M220.3,226.3 L223.3,231.7 L217.3,231.7 Z" fill="#eee2a0" stroke="#c4b070" stroke-width="0.5"/>
<path d="M261.5,206.6 L264.5,212 L258.5,212 Z" fill="#eee2a0" stroke="#c4b070" stroke-width="0.5"/>
<path d="M301.9,215.7 L304.9,221.1 L298.9,221.1 Z" fill="#eee2a0" stroke="#c4b070" stroke-width="0.5"/>
<circle cx="216.1" cy="218.6" r="1.5" fill="#111"/>
<circle cx="220.5" cy="218.6" r="1.5" fill="#111"/>
<circle cx="224.9" cy="218.6" r="1.5" fill="#111"/>
<circle cx="256.8" cy="201.6" r="1.5" fill="#111"/>
<circle cx="261.2" cy="201.6" r="1.5" fill="#111"/>
<circle cx="265.6" cy="201.6" r="1.5" fill="#111"/>
<circle cx="297.6" cy="208.1" r="1.5" fill="#111"/>
<circle cx="302" cy="208.1" r="1.5" fill="#111"/>
<circle cx="306.4" cy="208.1" r="1.5" fill="#111"/>
<text x="261.5" y="219.96" font-size="6" text-anchor="middle" font-weight="bold" fill="#151515" stroke="#151515" stroke-width="0.4">¶</text>
<path d="M260.1,151.85 V156.55 M261.9,151.85 V156.55 M259.2,153.2 H262.8 M259.2,155.2 H262.8" stroke="#111" stroke-width="0.75" fill="none"/>
<path d="M300.7,151.85 V156.55 M302.5,151.85 V156.55 M299.8,153.2 H303.4 M299.8,155.2 H303.4" stroke="#111" stroke-width="0.75" fill="none"/>
<text x="422.3" y="148.82" font-size="7" text-anchor="middle" font-weight="bold" fill="#111" stroke="#111" stroke-width="0.1">Heat</text>
<text x="0" y="0" font-size="7.1" text-anchor="middle" fill="#151515" stroke="#151515" stroke-width="0.3" transform="translate(346 198.25) rotate(-90)">Paw Withdrawal</text>
<text x="0" y="0" font-size="7.2" text-anchor="middle" fill="#151515" stroke="#151515" stroke-width="0.3" transform="translate(354.5 198) rotate(-90)">Latency (sec)</text>
<line x1="365.8" y1="158.4" x2="365.8" y2="238.2" stroke="#6e6e6e" stroke-width="1"/>
<line x1="363.8" y1="169.4" x2="365.8" y2="169.4" stroke="#6e6e6e" stroke-width="1"/>
<text x="362" y="171.78" font-size="6.6" text-anchor="end" font-weight="normal" fill="#151515" stroke="#151515" stroke-width="0.3">8</text>
<line x1="363.8" y1="192.4" x2="365.8" y2="192.4" stroke="#6e6e6e" stroke-width="1"/>
<text x="362" y="194.78" font-size="6.6" text-anchor="end" font-weight="normal" fill="#151515" stroke="#151515" stroke-width="0.3">6</text>
<line x1="363.8" y1="215.3" x2="365.8" y2="215.3" stroke="#6e6e6e" stroke-width="1"/>
<text x="362" y="217.68" font-size="6.6" text-anchor="end" font-weight="normal" fill="#151515" stroke="#151515" stroke-width="0.3">4</text>
<line x1="363.8" y1="238.2" x2="365.8" y2="238.2" stroke="#6e6e6e" stroke-width="1"/>
<text x="362" y="240.58" font-size="6.6" text-anchor="end" font-weight="normal" fill="#151515" stroke="#151515" stroke-width="0.3">2</text>
<line x1="365.8" y1="238.2" x2="478" y2="238.2" stroke="#6e6e6e" stroke-width="1"/>
<line x1="384.6" y1="238.2" x2="384.6" y2="240" stroke="#6e6e6e" stroke-width="1"/>
<text x="386" y="246.71" font-size="6.7" text-anchor="middle" font-weight="normal" fill="#151515" stroke="#151515" stroke-width="0.3">BL</text>
<line x1="422" y1="238.2" x2="422" y2="240" stroke="#6e6e6e" stroke-width="1"/>
<text x="423.45" y="246.71" font-size="6.7" text-anchor="middle" font-weight="normal" fill="#151515" stroke="#151515" stroke-width="0.3">Post H/R</text>
<line x1="459.2" y1="238.2" x2="459.2" y2="240" stroke="#6e6e6e" stroke-width="1"/>
<text x="460.8" y="246.71" font-size="6.7" text-anchor="middle" font-weight="normal" fill="#151515" stroke="#151515" stroke-width="0.3">1d post H/R</text>
<polyline points="384.3,178.4 421.9,187 459.6,172" fill="none" stroke="#8a8060" stroke-width="1"/>
<polyline points="384.9,219.5 422.1,231.9 458.9,227.9" fill="none" stroke="#555" stroke-width="1"/>
<line x1="384.3" y1="173.1" x2="384.3" y2="183.5" stroke="#505050" stroke-width="0.75"/>
<line x1="382" y1="173.1" x2="386.6" y2="173.1" stroke="#505050" stroke-width="0.75"/>
<line x1="382" y1="183.5" x2="386.6" y2="183.5" stroke="#505050" stroke-width="0.75"/>
<line x1="421.9" y1="182.5" x2="421.9" y2="191.5" stroke="#505050" stroke-width="0.75"/>
<line x1="419.6" y1="182.5" x2="424.2" y2="182.5" stroke="#505050" stroke-width="0.75"/>
<line x1="419.6" y1="191.5" x2="424.2" y2="191.5" stroke="#505050" stroke-width="0.75"/>
<line x1="459.6" y1="166.1" x2="459.6" y2="175.2" stroke="#505050" stroke-width="0.75"/>
<line x1="457.3" y1="166.1" x2="461.9" y2="166.1" stroke="#505050" stroke-width="0.75"/>
<line x1="457.3" y1="175.2" x2="461.9" y2="175.2" stroke="#505050" stroke-width="0.75"/>
<path d="M384.3,175.4 L387.3,180.8 L381.3,180.8 Z" fill="#eee2a0" stroke="#c4b070" stroke-width="0.5"/>
<path d="M421.9,184 L424.9,189.4 L418.9,189.4 Z" fill="#eee2a0" stroke="#c4b070" stroke-width="0.5"/>
<path d="M459.6,169 L462.6,174.4 L456.6,174.4 Z" fill="#eee2a0" stroke="#c4b070" stroke-width="0.5"/>
<rect x="382.7" y="217.3" width="4.4" height="4.4" fill="#c23c38"/>
<rect x="419.9" y="229.7" width="4.4" height="4.4" fill="#c23c38"/>
<rect x="456.7" y="225.7" width="4.4" height="4.4" fill="#c23c38"/>
<circle cx="380.8" cy="169.2" r="1.5" fill="#111"/>
<circle cx="385" cy="169.2" r="1.5" fill="#111"/>
<circle cx="389.2" cy="169.2" r="1.5" fill="#111"/>
<circle cx="417.8" cy="179.3" r="1.5" fill="#111"/>
<circle cx="422" cy="179.3" r="1.5" fill="#111"/>
<circle cx="426.2" cy="179.3" r="1.5" fill="#111"/>
<circle cx="455.4" cy="162.4" r="1.5" fill="#111"/>
<circle cx="459.5" cy="162.4" r="1.5" fill="#111"/>
<circle cx="463.6" cy="162.4" r="1.5" fill="#111"/>
<text x="422" y="198.36" font-size="6" text-anchor="middle" font-weight="bold" fill="#151515" stroke="#151515" stroke-width="0.4">¶</text>
<path d="M421.2,223.5 V227.7 M423,223.5 V227.7 M420.3,224.6 H423.9 M420.3,226.6 H423.9" stroke="#111" stroke-width="0.75" fill="none"/>
<path d="M458,219.9 V224.1 M459.8,219.9 V224.1 M457.1,221 H460.7 M457.1,223 H460.7" stroke="#111" stroke-width="0.75" fill="none"/>
<line x1="472.1" y1="163.6" x2="483.6" y2="163.6" stroke="#a06060" stroke-width="0.9"/>
<rect x="475.7" y="161.4" width="4.4" height="4.4" fill="#c23c38"/>
<text x="485.6" y="165.8" font-size="6.1" text-anchor="start" font-weight="normal" fill="#151515" stroke="#151515" stroke-width="0.3">HbSS</text>
<line x1="472.1" y1="173" x2="483.6" y2="173" stroke="#c0a060" stroke-width="0.9"/>
<path d="M477.9,170.25 L480.65,175.2 L475.15,175.2 Z" fill="#eee2a0" stroke="#c4b070" stroke-width="0.5"/>
<text x="485.6" y="175.26" font-size="6" text-anchor="start" font-weight="normal" fill="#151515" stroke="#151515" stroke-width="0.3">HbSS-W/Wv</text>
<text x="46.5" y="264.56" font-size="6" text-anchor="start" font-weight="normal" fill="#151515" stroke="#151515" stroke-width="0.15"><tspan font-weight="bold">Daily Treatment</tspan> (D0</text>
<line x1="103.02" y1="262.9" x2="106.82" y2="262.9" stroke="#151515" stroke-width="0.8"/>
<path d="M105.32,261.2 L107.12,262.9 L105.32,264.6" fill="none" stroke="#151515" stroke-width="0.8"/>
<text x="107.42" y="264.56" font-size="6" text-anchor="start" font-weight="normal" fill="#151515" stroke="#151515" stroke-width="0.15">D5):</text>
<text x="45.1" y="271.66" font-size="6" text-anchor="middle" font-weight="normal" fill="#151515" stroke="#151515" stroke-width="0.15">-</text>
<text x="54.3" y="271.46" font-size="6" text-anchor="start" font-weight="normal" fill="#151515" stroke="#151515" stroke-width="0.15">Vehicle&#160; (Saline 0.9% i.p.)</text>
<text x="45.1" y="279.06" font-size="6" text-anchor="middle" font-weight="normal" fill="#151515" stroke="#151515" stroke-width="0.15">-</text>
<text x="54.3" y="279.06" font-size="6" text-anchor="start" font-weight="normal" fill="#151515" stroke="#151515" stroke-width="0.15">Imatinib (oral gavage, 100 mg.kg<tspan font-size="4" dy="-2">-1</tspan><tspan dy="2">)</tspan></text>
<line x1="22.5" y1="270.5" x2="41.5" y2="270.5" stroke="#333" stroke-width="0.9"/>
<line x1="22.5" y1="267.8" x2="22.5" y2="273.6" stroke="#333" stroke-width="0.9"/>
<line x1="147.7" y1="270.5" x2="167.4" y2="270.5" stroke="#333" stroke-width="0.9"/>
<line x1="167.4" y1="267.8" x2="167.4" y2="273.6" stroke="#333" stroke-width="0.9"/>
<line x1="23.1" y1="291.3" x2="167.3" y2="291.3" stroke="#111" stroke-width="1.3"/>
<line x1="192.1" y1="291.3" x2="227.3" y2="291.3" stroke="#111" stroke-width="1.3"/>
<line x1="169.5" y1="291.3" x2="172.4" y2="291.3" stroke="#111" stroke-width="1.3"/>
<line x1="177.6" y1="291.3" x2="183.3" y2="291.3" stroke="#111" stroke-width="1.3"/>
<line x1="188" y1="291.3" x2="190.3" y2="291.3" stroke="#111" stroke-width="1.3"/>
<line x1="23.1" y1="288.5" x2="23.1" y2="294.1" stroke="#111" stroke-width="1"/>
<line x1="49.2" y1="288.5" x2="49.2" y2="294.1" stroke="#111" stroke-width="1"/>
<line x1="77.4" y1="288.5" x2="77.4" y2="294.1" stroke="#111" stroke-width="1"/>
<line x1="107.8" y1="288.5" x2="107.8" y2="294.1" stroke="#111" stroke-width="1"/>
<line x1="137.3" y1="288.5" x2="137.3" y2="294.1" stroke="#111" stroke-width="1"/>
<line x1="167.3" y1="288.5" x2="167.3" y2="294.1" stroke="#111" stroke-width="1"/>
<line x1="192.1" y1="288.5" x2="192.1" y2="294.1" stroke="#111" stroke-width="1"/>
<line x1="227.3" y1="288.5" x2="227.3" y2="294.1" stroke="#111" stroke-width="1"/>
<path d="M162.8,288.7 L166.2,291.3 L162.8,293.9" fill="none" stroke="#111" stroke-width="1.1"/>
<path d="M222.8,288.7 L226.2,291.3 L222.8,293.9" fill="none" stroke="#111" stroke-width="1.1"/>
<text x="23.1" y="302.43" font-size="6.2" text-anchor="middle" font-weight="normal" fill="#151515" stroke="#151515" stroke-width="0.2">D0</text>
<text x="49.2" y="302.43" font-size="6.2" text-anchor="middle" font-weight="normal" fill="#151515" stroke="#151515" stroke-width="0.2">D1</text>
<text x="77.4" y="302.43" font-size="6.2" text-anchor="middle" font-weight="normal" fill="#151515" stroke="#151515" stroke-width="0.2">D2</text>
<text x="107.8" y="302.43" font-size="6.2" text-anchor="middle" font-weight="normal" fill="#151515" stroke="#151515" stroke-width="0.2">D3</text>
<text x="137.3" y="302.43" font-size="6.2" text-anchor="middle" font-weight="normal" fill="#151515" stroke="#151515" stroke-width="0.2">D4</text>
<text x="168.2" y="302.43" font-size="6.2" text-anchor="middle" font-weight="normal" fill="#151515" stroke="#151515" stroke-width="0.2">D5</text>
<text x="192.2" y="302.43" font-size="6.2" text-anchor="middle" font-weight="normal" fill="#151515" stroke="#151515" stroke-width="0.2">D5</text>
<text x="226.9" y="302.43" font-size="6.2" text-anchor="middle" font-weight="normal" fill="#151515" stroke="#151515" stroke-width="0.2">D6</text>
<line x1="23.1" y1="306.5" x2="23.1" y2="311.5" stroke="#a04a4a" stroke-width="0.85"/>
<path d="M21.3,307.3 L23.1,304 L24.9,307.3 Z" fill="#a04a4a"/>
<line x1="167.6" y1="306.5" x2="167.6" y2="311.5" stroke="#a04a4a" stroke-width="0.85"/>
<path d="M165.8,307.3 L167.6,304 L169.4,307.3 Z" fill="#a04a4a"/>
<line x1="192.1" y1="306.5" x2="192.1" y2="311.5" stroke="#a04a4a" stroke-width="0.85"/>
<path d="M190.3,307.3 L192.1,304 L193.9,307.3 Z" fill="#a04a4a"/>
<line x1="227.1" y1="306.5" x2="227.1" y2="311.5" stroke="#a04a4a" stroke-width="0.85"/>
<path d="M225.3,307.3 L227.1,304 L228.9,307.3 Z" fill="#a04a4a"/>
<line x1="23.1" y1="319" x2="167.3" y2="319" stroke="#222" stroke-width="1"/>
<line x1="167.3" y1="319" x2="170.1" y2="319" stroke="#222" stroke-width="1"/>
<line x1="174.7" y1="319" x2="177.5" y2="319" stroke="#222" stroke-width="1"/>
<line x1="180.5" y1="319" x2="183.3" y2="319" stroke="#222" stroke-width="1"/>
<line x1="185.6" y1="319" x2="188.4" y2="319" stroke="#222" stroke-width="1"/>
<line x1="192.1" y1="319" x2="227.3" y2="319" stroke="#222" stroke-width="1"/>
<line x1="23.1" y1="315.6" x2="23.1" y2="322.4" stroke="#222" stroke-width="1"/>
<line x1="167.3" y1="315.6" x2="167.3" y2="322.4" stroke="#222" stroke-width="1"/>
<line x1="192.1" y1="315.6" x2="192.1" y2="322.4" stroke="#222" stroke-width="1"/>
<line x1="227.3" y1="315.6" x2="227.3" y2="322.4" stroke="#222" stroke-width="1"/>
<text x="97" y="327.12" font-size="7" text-anchor="middle" font-weight="normal" fill="#151515" stroke="#151515" stroke-width="0.3">Pre-H/R</text>
<text x="179.1" y="326.92" font-size="7" text-anchor="middle" font-weight="normal" fill="#151515" stroke="#151515" stroke-width="0.3">H/R</text>
<text x="210" y="326.92" font-size="7" text-anchor="middle" font-weight="normal" fill="#151515" stroke="#151515" stroke-width="0.3">Post-H/R</text>
</svg></body></html>
